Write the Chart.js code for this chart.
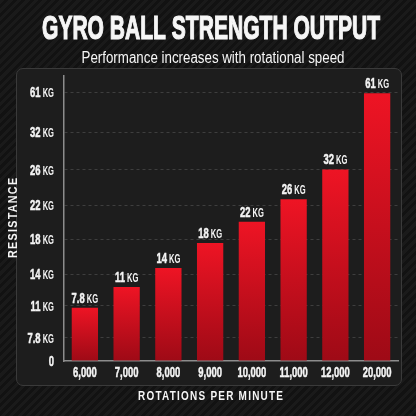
<!DOCTYPE html>
<html>
<head>
<meta charset="utf-8">
<script src="https://cdn.jsdelivr.net/npm/chart.js@4.4.0/dist/chart.umd.min.js"></script>
<style>
	html, body { margin: 0; padding: 0; }
	body {
		width: 416px; height: 416px; overflow: hidden; position: relative;
		background: repeating-linear-gradient(-45deg, #121212 0px, #121212 3px, #1a1a1a 3px, #1a1a1a 6px);
	}
	.panel {
		position: absolute; left: 16px; top: 68px; width: 384px; height: 316px;
		background: #1d1d1d; border: 1px solid #3a3a3a; border-radius: 7px;
	}
	canvas { position: absolute; left: 0; top: 0; }
</style>
</head>
<body>
<div class="panel"></div>
<canvas id="myChart" width="416" height="416"></canvas>
<script>
const rpmLabels = ['6,000', '7,000', '8,000', '9,000', '10,000', '11,000', '12,000', '20,000'];
const kgLabels = ['7.8', '11', '14', '18', '22', '26', '32', '61'];
// bar heights as drawn, in axis units (the axis is not linear in kg)
const barLevels = [12.1, 16.8, 21.1, 26.8, 31.6, 36.7, 43.5, 60.8];
const tickLevels = [0, 5.3, 12.5, 19.75, 27.6, 35.4, 43.4, 51.9, 61];
const tickLabels = ['0', '7.8', '11', '14', '18', '22', '26', '32', '61'];

const FONT = '"Liberation Sans", Arial, sans-serif';
const SX = 0.63;

function drawValue(ctx, num, unit, x, y, align) {
	ctx.font = `bold 15px ${FONT}`;
	const wNum = ctx.measureText(num).width;
	ctx.font = `bold 12px ${FONT}`;
	const wUnit = unit ? ctx.measureText(' ' + unit).width : 0;
	const total = (wNum + wUnit) * SX;
	const x0 = align === 'right' ? x - total : align === 'center' ? x - total / 2 : x;
	ctx.save();
	ctx.translate(x0, y);
	ctx.scale(SX, 1);
	ctx.fillStyle = '#f4f4f4';
	ctx.strokeStyle = '#f4f4f4';
	ctx.lineWidth = 0.5;
	ctx.textAlign = 'left';
	ctx.textBaseline = 'alphabetic';
	ctx.font = `bold 15px ${FONT}`;
	ctx.fillText(num, 0, 0);
	ctx.strokeText(num, 0, 0);
	if (unit) {
		ctx.font = `bold 12px ${FONT}`;
		ctx.fillText(' ' + unit, wNum, 0);
	}
	ctx.restore();
}

// text squeezed horizontally to a given width
function drawFit(ctx, text, font, cx, y, width, spacing, rotate, heavy) {
	ctx.save();
	ctx.font = font;
	ctx.letterSpacing = (spacing || 0) + 'px';
	const w = ctx.measureText(text).width - (spacing || 0);
	ctx.translate(cx, y);
	if (rotate) ctx.rotate(-Math.PI / 2);
	ctx.scale(width / w, 1);
	ctx.fillStyle = '#f6f6f6';
	ctx.textAlign = 'left';
	ctx.textBaseline = 'alphabetic';
	ctx.fillText(text, -w / 2, 0);
	if (heavy) {
		ctx.strokeStyle = '#f6f6f6';
		ctx.lineWidth = heavy;
		ctx.strokeText(text, -w / 2, 0);
	}
	ctx.restore();
}

const labelsPlugin = {
	id: 'labels',
	afterDraw(chart) {
		const ctx = chart.ctx;
		const x = chart.scales.x;
		const y = chart.scales.y;

		tickLevels.forEach((v, i) => {
			const p = y.getPixelForValue(v);
			drawValue(ctx, tickLabels[i], v === 0 ? '' : 'KG', 54, p + 5, 'right');
		});
		rpmLabels.forEach((l, i) => {
			drawValue(ctx, l, '', x.getPixelForValue(i), 377, 'center');
		});
		chart.getDatasetMeta(0).data.forEach((bar, i) => {
			drawValue(ctx, kgLabels[i], 'KG', bar.x, bar.y - 5, 'center');
		});

		drawFit(ctx, 'GYRO BALL STRENGTH OUTPUT', `bold 33px ${FONT}`, 211, 38.5, 338, 0, false, 1.2);
		drawFit(ctx, 'Performance increases with rotational speed', `16px ${FONT}`, 213, 63, 263);
		drawFit(ctx, 'ROTATIONS PER MINUTE', `bold 12px ${FONT}`, 210.5, 400, 145, 1.5);
		drawFit(ctx, 'RESISTANCE', `bold 12px ${FONT}`, 17, 218, 80, 1.5, true);
	}
};

const barFill = (c) => {
	const chart = c.chart;
	if (!chart.chartArea || c.raw === undefined) return '#d8101e';
	const y = chart.scales.y;
	const top = y.getPixelForValue(c.raw);
	const base = y.getPixelForValue(0);
	const g = chart.ctx.createLinearGradient(0, top, 0, base);
	g.addColorStop(0, '#ee1424');
	g.addColorStop(1, '#9e0a16');
	return g;
};

var ctx = document.getElementById('myChart').getContext('2d');
var myChart = new Chart(ctx, {
	type: 'bar',
	data: {
		labels: rpmLabels,
		datasets: [
			{
				label: 'Resistance',
				data: barLevels,
				backgroundColor: barFill,
				borderWidth: 0,
				barPercentage: 0.63,
				categoryPercentage: 1
			}
		]
	},
	options: {
		responsive: false,
		animation: false,
		layout: {
			padding: { left: 64, right: 18, top: 76, bottom: 55 }
		},
		plugins: {
			legend: { display: false },
			tooltip: { enabled: false }
		},
		scales: {
			x: {
				ticks: { display: false },
				grid: { display: false, drawTicks: false },
				border: { color: '#8c8c8c', width: 1.5 }
			},
			y: {
				min: 0,
				max: 64.7,
				afterBuildTicks: (axis) => {
					axis.ticks = tickLevels.map(v => ({ value: v }));
				},
				ticks: { display: false },
				grid: {
					drawTicks: false,
					color: (c) => (c.tick && c.tick.value === 0) ? 'transparent' : '#3e3e3e'
				},
				border: { color: '#8c8c8c', width: 1.5, dash: [3, 3] }
			}
		}
	},
	plugins: [labelsPlugin]
});
</script>
</body>
</html>
